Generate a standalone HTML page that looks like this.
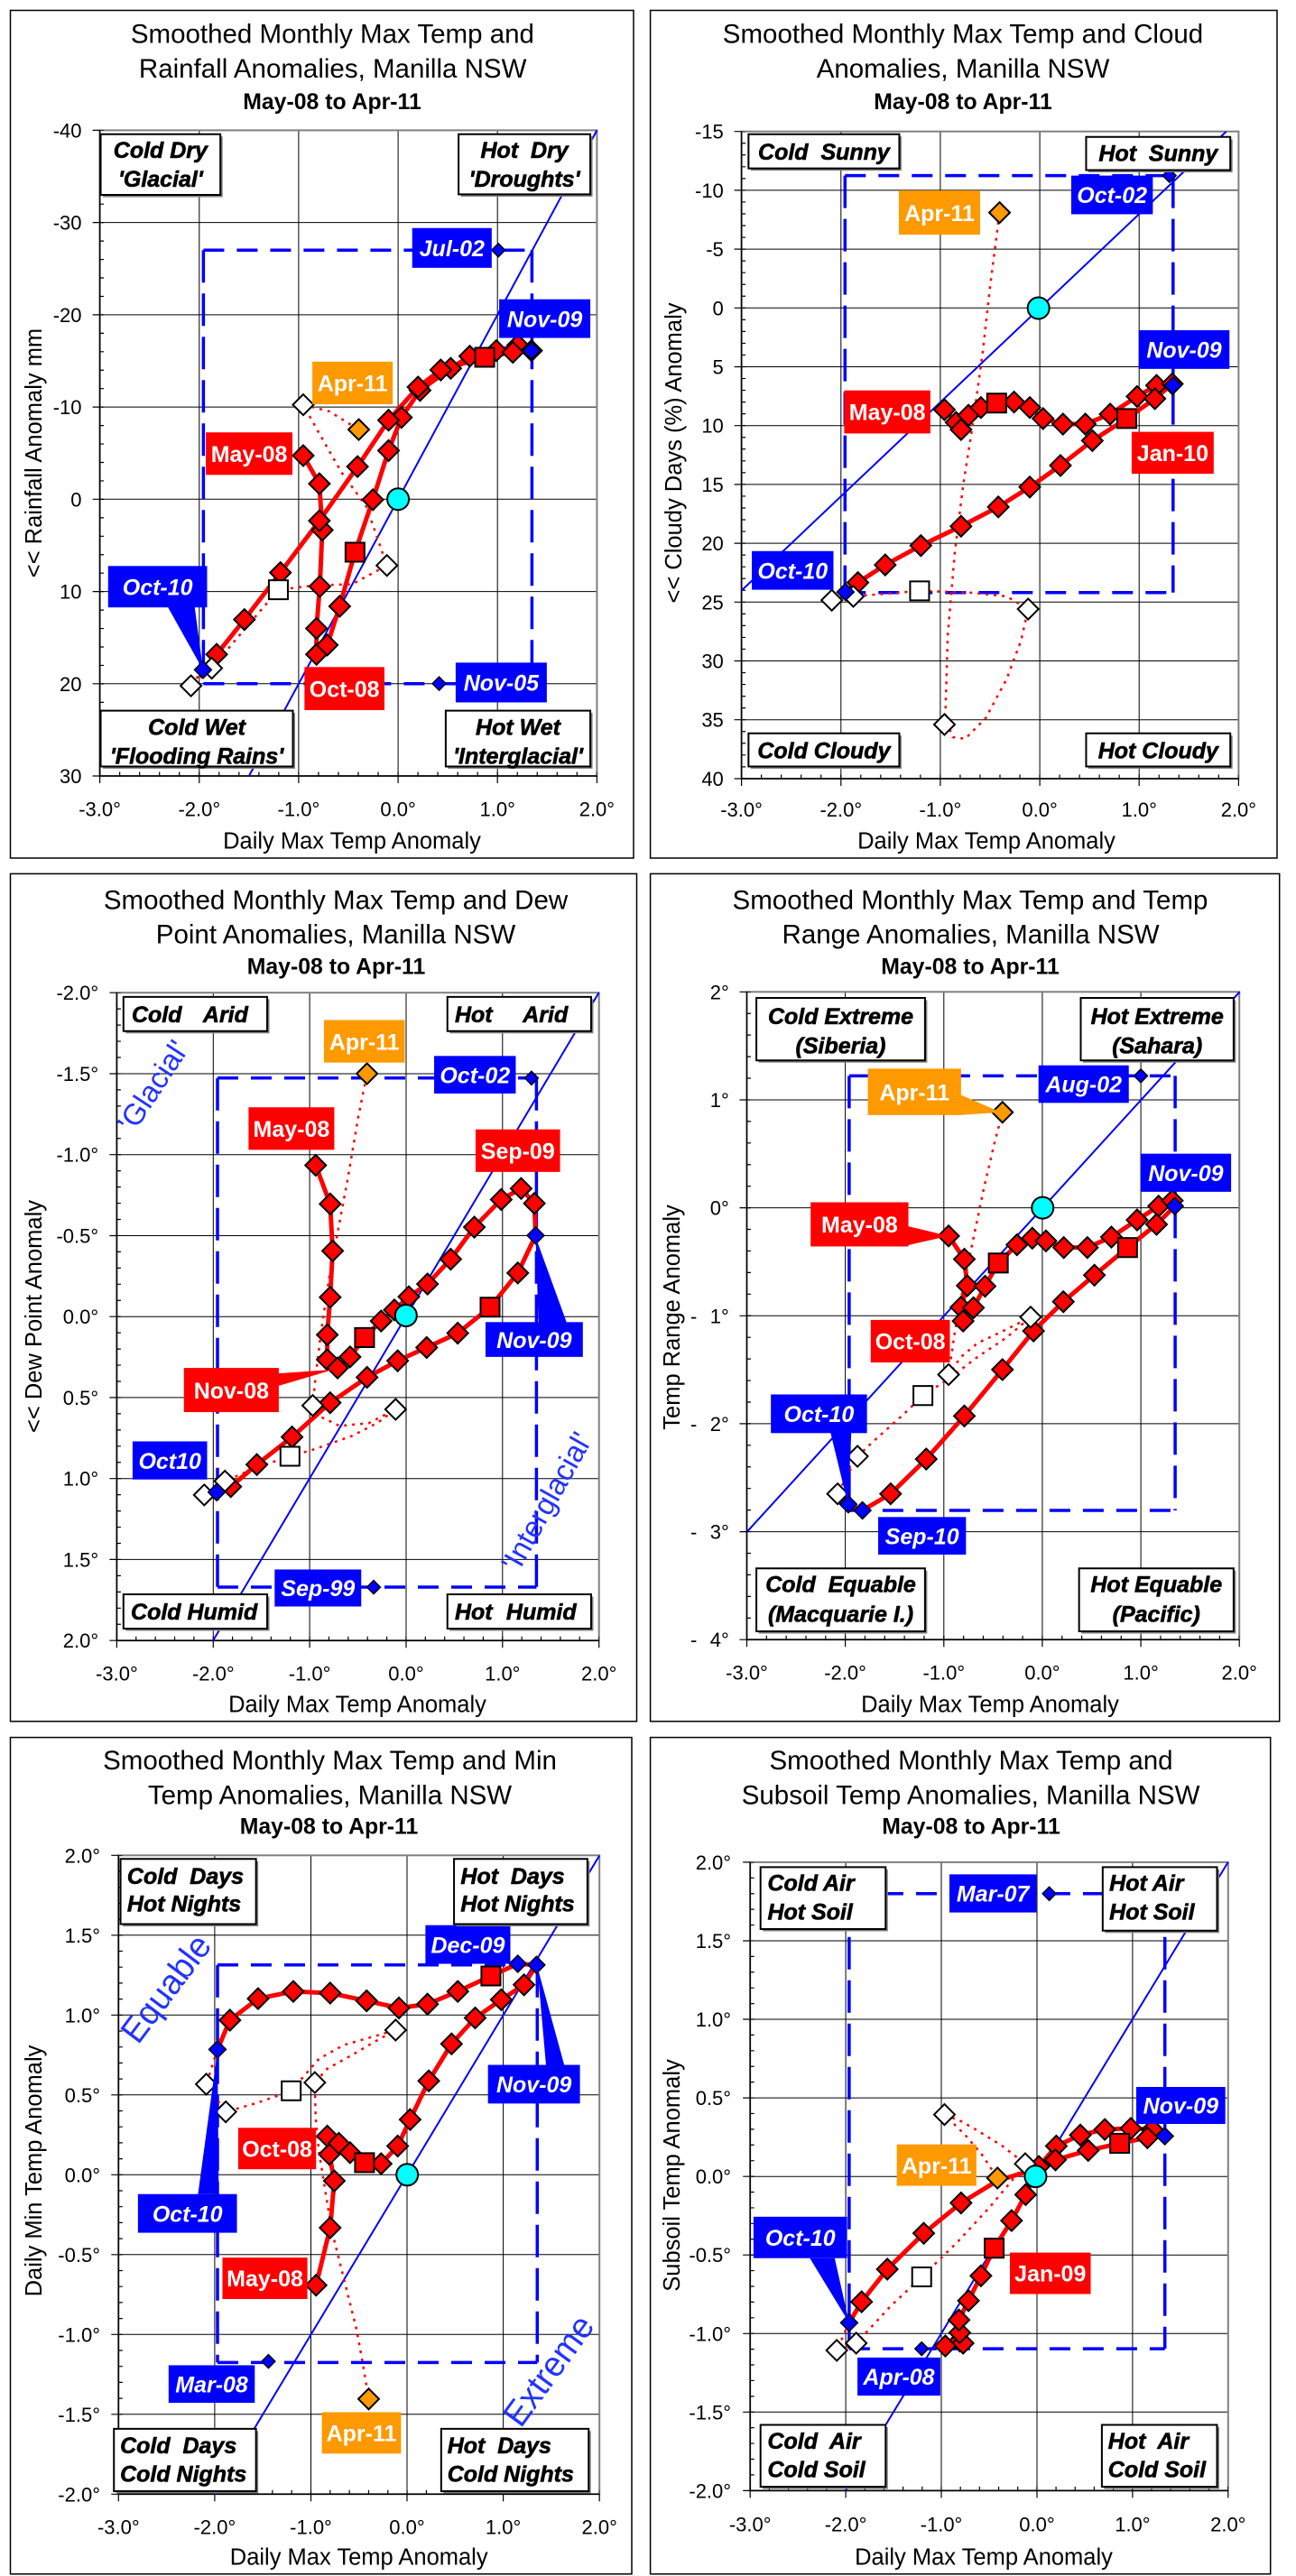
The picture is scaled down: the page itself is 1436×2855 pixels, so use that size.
<!DOCTYPE html>
<html><head><meta charset="utf-8"><title>Manilla NSW anomaly charts</title>
<style>
body{margin:0;background:#fff}
svg{display:block}
text{font-family:"Liberation Sans",Arial,sans-serif}
.fr{fill:none;stroke:#000;stroke-width:1.5}
.gr{fill:none;stroke:#000;stroke-width:1}
.pb{fill:none;stroke:#808080;stroke-width:2}
.ax{fill:none;stroke:#000;stroke-width:1.5}
.mt{fill:none;stroke:#000;stroke-width:1.2}
.mn{fill:none;stroke:#000;stroke-width:4.5}
.dg{stroke:#00f;stroke-width:2;fill:none}
.dh{stroke:#00f;stroke-width:3.5;stroke-dasharray:23 14;fill:none}
.dv{stroke:#00f;stroke-width:3.5;stroke-dasharray:36 12;fill:none}
.g *{vector-effect:non-scaling-stroke}
.rl{fill:none;stroke:#f00;stroke-width:5;stroke-linejoin:round;stroke-linecap:round}
.dt{fill:none;stroke:#f00;stroke-width:2.5;stroke-dasharray:3 6}
.rd{fill:#f00;stroke:#000;stroke-width:2}
.wd{fill:#fff;stroke:#000;stroke-width:2}
.bd{fill:#00f;stroke:#000;stroke-width:1.4}
.od{fill:#f90;stroke:#000;stroke-width:2}
.cy{fill:#0ff;stroke:#000;stroke-width:2}
.B{fill:#00f}.R{fill:#f00}.O{fill:#f90}
.qs{fill:#808080}
.qb{fill:#fff;stroke:#000;stroke-width:2}
.t1{font-size:29.5px;text-anchor:middle}
.t2{font-size:24.8px;font-weight:700;text-anchor:middle}
.tk{font-size:22px;text-anchor:end}
.tx{font-size:22px;text-anchor:middle}
.at{font-size:25.5px;text-anchor:middle}
.q{font-size:25px;font-weight:700;font-style:italic;stroke:#000;stroke-width:0.6}
.qm{text-anchor:middle}
.lb{font-size:25px;font-weight:700;fill:#fff;text-anchor:middle}
.li{font-style:italic}
.rot{fill:#2233ff}
</style></head>
<body>
<svg width="1436" height="2855" viewBox="0 0 1436 2855" xmlns="http://www.w3.org/2000/svg" xmlns:xlink="http://www.w3.org/1999/xlink">
<defs>
<path id="d" d="M0,-18.8L25,0L0,18.8L-25,0Z" vector-effect="non-scaling-stroke"/>
<path id="s" d="M-22.9,-17.2h45.8v34.4h-45.8Z" vector-effect="non-scaling-stroke"/>
<path id="b" d="M0,-12.3L16.3,0L0,12.3L-16.3,0Z" vector-effect="non-scaling-stroke"/>
<path id="m" d="M0,-15.5L20.7,0L0,15.5L-20.7,0Z" vector-effect="non-scaling-stroke"/>
</defs>
<rect width="1436" height="2855" fill="#fff"/>

<!-- ================= PANEL 1 ================= -->
<rect class="fr" x="11.5" y="11.5" width="690.5" height="939.5"/>
<path class="gr" d="M220.8,144.4V860M330.9,144.4V860M441.1,144.4V860M551.2,144.4V860M110.6,246.6H661.4M110.6,348.9H661.4M110.6,451.1H661.4M110.6,553.3H661.4M110.6,655.6H661.4M110.6,757.8H661.4"/>
<rect class="pb" x="110.6" y="144.4" width="550.8" height="715.6"/>
<path class="ax" d="M110.6,144.4V860H661.4"/>
<path class="mt" d="M102.6,144.4h8M102.6,246.6h8M102.6,348.9h8M102.6,451.1h8M102.6,553.3h8M102.6,655.6h8M102.6,757.8h8M102.6,860h8M110.6,860v8M220.8,860v8M330.9,860v8M441.1,860v8M551.2,860v8M661.4,860v8"/>
<path class="mn" d="M112.85,144.4V860" stroke-dasharray="1.2 19.25" stroke-dashoffset="0.6"/>
<path class="mn" d="M110.6,857.75H661.4" stroke-dasharray="1.2 20.83" stroke-dashoffset="0.6"/>
<line class="dg" x1="275.9" y1="860" x2="661.4" y2="144.4"/>
<path class="dh" d="M225.4,277.2H589.4M225.4,757.7H589.4"/><path class="dv" d="M225.4,277.2V757.7M589.4,277.2V757.7"/>
<g class="g" transform="translate(0,0) scale(0.459,0.612)">
<polyline class="dt" points="490,1213 461,1242 511,1210 590,1140 672,1068 760,1060 850,1058 934,1024 885,918 824,855 770,784 732,733 795,745 866,778"/>
<polyline class="rl" points="732,825 771,876 778,960 772,1062 764,1138 764,1185 790,1168 820,1098 857,1000 900,905 938,816 969,756 1014,707 1088,667 1134,645 1198,635 1250,625 1283,635"/>
<polyline class="rl" points="1283,635 1238,638 1170,647 1064,670 1009,701 938,761 863,845 771,943 677,1037 590,1122 523,1185 490,1213"/>
<g class="rd"><use href="#d" x="732" y="825"/><use href="#d" x="771" y="876"/><use href="#d" x="778" y="960"/><use href="#d" x="772" y="1062"/><use href="#d" x="764" y="1138"/><use href="#d" x="764" y="1185"/><use href="#d" x="790" y="1168"/><use href="#d" x="820" y="1098"/><use href="#d" x="900" y="905"/><use href="#d" x="938" y="816"/><use href="#d" x="969" y="756"/><use href="#d" x="1014" y="707"/><use href="#d" x="1088" y="667"/><use href="#d" x="1134" y="645"/><use href="#d" x="1198" y="635"/><use href="#d" x="1250" y="625"/><use href="#d" x="1283" y="635"/><use href="#d" x="1238" y="638"/><use href="#d" x="1064" y="670"/><use href="#d" x="1009" y="701"/><use href="#d" x="938" y="761"/><use href="#d" x="863" y="845"/><use href="#d" x="771" y="943"/><use href="#d" x="677" y="1037"/><use href="#d" x="590" y="1122"/><use href="#d" x="523" y="1185"/><use href="#s" x="857" y="1000"/><use href="#s" x="1170" y="647"/></g>
<g class="wd"><use href="#d" x="461" y="1242"/><use href="#d" x="511" y="1210"/><use href="#d" x="934" y="1024"/><use href="#d" x="732" y="733"/><use href="#s" x="672" y="1068"/></g>
<g class="bd"><use href="#m" x="1283" y="635"/><use href="#m" x="490" y="1213"/><use href="#b" x="1203" y="453"/><use href="#b" x="1060" y="1238"/></g>
<use class="od" href="#d" x="866" y="778"/>
<ellipse class="cy" cx="961" cy="904" rx="26.1" ry="19.6"/>
<rect class="B" x="995" y="413" width="192" height="72"/><text class="lb li" transform="translate(1091,464) scale(2.1786,1.634)">Jul-02</text>
<rect class="B" x="1205" y="542" width="220" height="70"/><text class="lb li" transform="translate(1315,592) scale(2.1786,1.634)">Nov-09</text>
<rect class="O" x="754" y="655" width="194" height="77"/><text class="lb" transform="translate(851,708.5) scale(2.1786,1.634)">Apr-11</text>
<rect class="R" x="497" y="783" width="209" height="77"/><text class="lb" transform="translate(601.5,836.5) scale(2.1786,1.634)">May-08</text>
<polygon class="B" points="405,1099 470,1099 490,1213"/>
<rect class="B" x="261" y="1025" width="239" height="75"/><text class="lb li" transform="translate(380.5,1077.5) scale(2.1786,1.634)">Oct-10</text>
<rect class="R" x="735" y="1208" width="193" height="78"/><text class="lb" transform="translate(831.5,1262) scale(2.1786,1.634)">Oct-08</text>
<rect class="B" x="1100" y="1200" width="220" height="72"/><text class="lb li" transform="translate(1210,1251) scale(2.1786,1.634)">Nov-05</text>
<rect class="qs" x="248.4" y="247.1" width="289" height="110"/><rect class="qb" x="243" y="243" width="289" height="110"/>
<text class="q qm" transform="translate(387.5,286) scale(2.1786,1.634)">Cold Dry</text><text class="q qm" transform="translate(387.5,338) scale(2.1786,1.634)">'Glacial'</text>
<rect class="qs" x="1112.4" y="247.1" width="318" height="109"/><rect class="qb" x="1107" y="243" width="318" height="109"/>
<text class="q qm" transform="translate(1266,286) scale(2.1786,1.634)">Hot&#160; Dry</text><text class="q qm" transform="translate(1266,338) scale(2.1786,1.634)">'Droughts'</text>
<rect class="qs" x="248.4" y="1291.1" width="464" height="101"/><rect class="qb" x="243" y="1287" width="464" height="101"/>
<text class="q qm" transform="translate(475,1331) scale(2.1786,1.634)">Cold Wet</text><text class="q qm" transform="translate(475,1383) scale(2.1786,1.634)">'Flooding Rains'</text>
<rect class="qs" x="1081.4" y="1291.1" width="349" height="101"/><rect class="qb" x="1076" y="1287" width="349" height="101"/>
<text class="q qm" transform="translate(1250.5,1331) scale(2.1786,1.634)">Hot Wet</text><text class="q qm" transform="translate(1250.5,1383) scale(2.1786,1.634)">'Interglacial'</text>
</g>
<text class="t1" x="368.4" y="47.7">Smoothed Monthly Max Temp and</text>
<text class="t1" x="368.7" y="86">Rainfall Anomalies, Manilla NSW</text>
<text class="t2" x="368" y="121">May-08 to Apr-11</text>
<g class="tk"><text x="90.5" y="152.4">-40</text><text x="90.5" y="254.6">-30</text><text x="90.5" y="356.9">-20</text><text x="90.5" y="459.1">-10</text><text x="90.5" y="561.3">0</text><text x="90.5" y="663.6">10</text><text x="90.5" y="765.8">20</text><text x="90.5" y="868">30</text></g>
<g class="tx"><text x="110.6" y="904.3">-3.0°</text><text x="220.8" y="904.3">-2.0°</text><text x="330.9" y="904.3">-1.0°</text><text x="441.1" y="904.3">0.0°</text><text x="551.2" y="904.3">1.0°</text><text x="661.4" y="904.3">2.0°</text></g>
<text class="at" x="390" y="940.5">Daily Max Temp Anomaly</text>
<text class="at" transform="translate(46,502) rotate(-90)">&lt;&lt; Rainfall Anomaly mm</text>

<!-- ================= PANEL 2 ================= -->
<rect class="fr" x="720.6" y="11.5" width="694.4" height="939.5"/>
<path class="gr" d="M931.8,145.7V863M1041.9,145.7V863M1152.1,145.7V863M1262.2,145.7V863M821.6,210.9H1372.4M821.6,276.1H1372.4M821.6,341.3H1372.4M821.6,406.5H1372.4M821.6,471.7H1372.4M821.6,536.9H1372.4M821.6,602.1H1372.4M821.6,667.3H1372.4M821.6,732.5H1372.4M821.6,797.7H1372.4"/>
<rect class="pb" x="821.6" y="145.7" width="550.8" height="717.3"/>
<path class="ax" d="M821.6,145.7V863H1372.4"/>
<path class="mt" d="M813.6,145.7h8M813.6,210.9h8M813.6,276.1h8M813.6,341.3h8M813.6,406.5h8M813.6,471.7h8M813.6,536.9h8M813.6,602.1h8M813.6,667.3h8M813.6,732.5h8M813.6,797.7h8M813.6,863h8M821.6,863v8M931.8,863v8M1041.9,863v8M1152.1,863v8M1262.2,863v8M1372.4,863v8"/>
<path class="mn" d="M823.85,145.7V863" stroke-dasharray="1.2 11.84" stroke-dashoffset="0.6"/>
<path class="mn" d="M821.6,860.75H1372.4" stroke-dasharray="1.2 20.83" stroke-dashoffset="0.6"/>
<line class="dg" x1="821.6" y1="654.5" x2="1358.6" y2="145.9"/>
<path class="dh" d="M936.3,194.6H1299.8M936.3,656.7H1299.8"/><path class="dv" d="M936.3,194.6V656.7M1299.8,194.6V656.7"/>
<g class="g" transform="translate(716,0) scale(0.459,0.612)">
<polyline class="dt" points="481,1072 448,1087 500,1080 580,1075 660,1070 780,1073 870,1080 922,1103 905,1160 870,1230 820,1300 770,1338 740,1335 722,1300 728,1150 745,1000 765,880 790,760 812,640 830,520 853,385"/>
<polyline class="rl" points="720,742 748,765 760,778 778,752 808,738 846,730 888,728 926,738 958,758 1006,768 1060,768 1120,750 1185,718 1232,698 1270,695"/>
<polyline class="rl" points="1270,695 1228,722 1160,758 1077,798 1000,843 926,882 850,918 760,953 663,988 577,1023 511,1055 481,1072"/>
<g class="rd"><use href="#d" x="720" y="742"/><use href="#d" x="748" y="765"/><use href="#d" x="760" y="778"/><use href="#d" x="778" y="752"/><use href="#d" x="808" y="738"/><use href="#d" x="888" y="728"/><use href="#d" x="926" y="738"/><use href="#d" x="958" y="758"/><use href="#d" x="1006" y="768"/><use href="#d" x="1060" y="768"/><use href="#d" x="1120" y="750"/><use href="#d" x="1185" y="718"/><use href="#d" x="1232" y="698"/><use href="#d" x="1270" y="695"/><use href="#d" x="1228" y="722"/><use href="#d" x="1077" y="798"/><use href="#d" x="1000" y="843"/><use href="#d" x="926" y="882"/><use href="#d" x="850" y="918"/><use href="#d" x="760" y="953"/><use href="#d" x="663" y="988"/><use href="#d" x="577" y="1023"/><use href="#d" x="511" y="1055"/><use href="#s" x="846" y="730"/><use href="#s" x="1160" y="758"/></g>
<g class="wd"><use href="#d" x="500" y="1080"/><use href="#d" x="448" y="1087"/><use href="#d" x="922" y="1103"/><use href="#d" x="720" y="1312"/><use href="#s" x="660" y="1070"/></g>
<g class="bd"><use href="#m" x="1272" y="698"/><use href="#m" x="481" y="1072"/><use href="#b" x="1263" y="318"/></g>
<use class="od" href="#d" x="853" y="385"/>
<ellipse class="cy" cx="947" cy="558" rx="26.1" ry="19.6"/>
<rect class="B" x="1026" y="318" width="197" height="70"/><text class="lb li" transform="translate(1124.5,368) scale(2.1786,1.634)">Oct-02</text>
<rect class="O" x="610" y="345" width="196" height="80"/><text class="lb" transform="translate(708,400) scale(2.1786,1.634)">Apr-11</text>
<rect class="B" x="1189" y="598" width="219" height="70"/><text class="lb li" transform="translate(1298.5,648) scale(2.1786,1.634)">Nov-09</text>
<rect class="R" x="478" y="707" width="208" height="78"/><text class="lb" transform="translate(582,761) scale(2.1786,1.634)">May-08</text>
<rect class="R" x="1172" y="782" width="198" height="76"/><text class="lb" transform="translate(1271,835) scale(2.1786,1.634)">Jan-10</text>
<rect class="B" x="255" y="998" width="197" height="70"/><text class="lb li" transform="translate(353.5,1048) scale(2.1786,1.634)">Oct-10</text>
<rect class="qs" x="252.4" y="247.1" width="364" height="62"/><rect class="qb" x="247" y="243" width="364" height="62"/>
<text class="q qm" transform="translate(429,289) scale(2.1786,1.634)">Cold&#160; Sunny</text>
<rect class="qs" x="1067.4" y="252.1" width="348" height="60"/><rect class="qb" x="1062" y="248" width="348" height="60"/>
<text class="q qm" transform="translate(1236,292) scale(2.1786,1.634)">Hot&#160; Sunny</text>
<rect class="qs" x="252.4" y="1332.1" width="364" height="60"/><rect class="qb" x="247" y="1328" width="364" height="60"/>
<text class="q qm" transform="translate(429,1373) scale(2.1786,1.634)">Cold Cloudy</text>
<rect class="qs" x="1067.4" y="1332.1" width="348" height="60"/><rect class="qb" x="1062" y="1328" width="348" height="60"/>
<text class="q qm" transform="translate(1236,1373) scale(2.1786,1.634)">Hot Cloudy</text>
</g>
<text class="t1" x="1067" y="47.7">Smoothed Monthly Max Temp and Cloud</text>
<text class="t1" x="1067" y="86">Anomalies, Manilla NSW</text>
<text class="t2" x="1067" y="121">May-08 to Apr-11</text>
<g class="tk"><text x="801.8" y="153.7">-15</text><text x="801.8" y="218.9">-10</text><text x="801.8" y="284.1">-5</text><text x="801.8" y="349.3">0</text><text x="801.8" y="414.5">5</text><text x="801.8" y="479.7">10</text><text x="801.8" y="544.9">15</text><text x="801.8" y="610.1">20</text><text x="801.8" y="675.3">25</text><text x="801.8" y="740.5">30</text><text x="801.8" y="805.7">35</text><text x="801.8" y="870.9">40</text></g>
<g class="tx"><text x="821.6" y="905">-3.0°</text><text x="931.8" y="905">-2.0°</text><text x="1041.9" y="905">-1.0°</text><text x="1152.1" y="905">0.0°</text><text x="1262.2" y="905">1.0°</text><text x="1372.4" y="905">2.0°</text></g>
<text class="at" x="1093" y="940.5">Daily Max Temp Anomaly</text>
<text class="at" transform="translate(755,502) rotate(-90)">&lt;&lt; Cloudy Days (%) Anomaly</text>

<!-- ================= PANEL 3 ================= -->
<rect class="fr" x="11.5" y="968.4" width="694" height="939.4"/>
<path class="gr" d="M236.3,1100.2V1818.2M343.1,1100.2V1818.2M450,1100.2V1818.2M556.8,1100.2V1818.2M129.4,1190H663.7M129.4,1279.7H663.7M129.4,1369.5H663.7M129.4,1459.2H663.7M129.4,1548.9H663.7M129.4,1638.7H663.7M129.4,1728.4H663.7"/>
<rect class="pb" x="129.4" y="1100.2" width="534.3" height="718"/>
<path class="ax" d="M129.4,1100.2V1818.2H663.7"/>
<path class="mt" d="M121.4,1100.2h8M121.4,1190h8M121.4,1279.7h8M121.4,1369.5h8M121.4,1459.2h8M121.4,1548.9h8M121.4,1638.7h8M121.4,1728.4h8M121.4,1818.2h8M129.4,1818.2v8M236.3,1818.2v8M343.1,1818.2v8M450,1818.2v8M556.8,1818.2v8M663.7,1818.2v8"/>
<path class="mn" d="M131.65,1100.2V1818.2" stroke-dasharray="1.2 16.75" stroke-dashoffset="0.6"/>
<path class="mn" d="M129.4,1815.95H663.7" stroke-dasharray="1.2 20.17" stroke-dashoffset="0.6"/>
<line class="dg" x1="236.1" y1="1818.2" x2="663.5" y2="1100.2"/>
<path class="dh" d="M241,1194.8H594.4M241,1759H594.4"/><path class="dv" d="M241,1194.8V1759M594.4,1194.8V1759"/>
<g class="g" transform="translate(0,950) scale(0.459,0.612)">
<polyline class="dt" points="523,1150 493,1155 543,1130 620,1105 700,1085 760,1072 850,1048 910,1025 955,1000 890,1025 820,1030 770,1012 755,993 762,940 775,860 795,760 815,680 840,580 865,470 886,392"/>
<polyline class="rl" points="762,558 797,628 803,713 797,797 790,865 790,910 815,925 845,905 880,870 920,840 952,820 987,796 1032,773 1088,728 1145,670 1210,620 1258,600 1290,627 1293,685"/>
<polyline class="rl" points="1293,685 1250,753 1183,815 1105,862 1030,888 960,912 886,942 797,988 705,1050 620,1100 557,1140 523,1150"/>
<g class="rd"><use href="#d" x="762" y="558"/><use href="#d" x="797" y="628"/><use href="#d" x="803" y="713"/><use href="#d" x="797" y="797"/><use href="#d" x="790" y="865"/><use href="#d" x="790" y="910"/><use href="#d" x="815" y="925"/><use href="#d" x="845" y="905"/><use href="#d" x="920" y="840"/><use href="#d" x="952" y="820"/><use href="#d" x="987" y="796"/><use href="#d" x="1032" y="773"/><use href="#d" x="1088" y="728"/><use href="#d" x="1145" y="670"/><use href="#d" x="1210" y="620"/><use href="#d" x="1258" y="600"/><use href="#d" x="1290" y="627"/><use href="#d" x="1250" y="753"/><use href="#d" x="1105" y="862"/><use href="#d" x="1030" y="888"/><use href="#d" x="960" y="912"/><use href="#d" x="886" y="942"/><use href="#d" x="797" y="988"/><use href="#d" x="705" y="1050"/><use href="#d" x="620" y="1100"/><use href="#d" x="557" y="1140"/><use href="#s" x="880" y="870"/><use href="#s" x="1183" y="815"/></g>
<g class="wd"><use href="#d" x="543" y="1130"/><use href="#d" x="493" y="1155"/><use href="#d" x="955" y="1000"/><use href="#d" x="755" y="993"/><use href="#s" x="700" y="1085"/></g>
<g class="bd"><use href="#m" x="1293" y="685"/><use href="#m" x="523" y="1150"/><use href="#b" x="1283" y="400"/><use href="#b" x="902" y="1322"/></g>
<use class="od" href="#d" x="886" y="392"/>
<ellipse class="cy" cx="980" cy="830" rx="26.1" ry="19.6"/>
<rect class="O" x="782" y="295" width="195" height="77"/><text class="lb" transform="translate(879.5,348.5) scale(2.1786,1.634)">Apr-11</text>
<rect class="B" x="1048" y="360" width="197" height="68"/><text class="lb li" transform="translate(1146.5,409) scale(2.1786,1.634)">Oct-02</text>
<rect class="R" x="600" y="453" width="207" height="77"/><text class="lb" transform="translate(703.5,506.5) scale(2.1786,1.634)">May-08</text>
<rect class="R" x="1148" y="493" width="204" height="77"/><text class="lb" transform="translate(1250,546.5) scale(2.1786,1.634)">Sep-09</text>
<polygon class="B" points="1293,688 1300,843 1368,843"/>
<rect class="B" x="1172" y="842" width="235" height="63"/><text class="lb li" transform="translate(1289.5,888.5) scale(2.1786,1.634)">Nov-09</text>
<polygon class="R" points="670,935 670,958 805,928"/>
<rect class="R" x="444" y="925" width="229" height="80"/><text class="lb" transform="translate(558.5,980) scale(2.1786,1.634)">Nov-08</text>
<rect class="B" x="320" y="1058" width="180" height="69"/><text class="lb li" transform="translate(410,1107.5) scale(2.1786,1.634)">Oct10</text>
<rect class="B" x="663" y="1290" width="209" height="67"/><text class="lb li" transform="translate(767.5,1338.5) scale(2.1786,1.634)">Sep-99</text>
<rect class="qs" x="303.4" y="257.1" width="347" height="62"/><rect class="qb" x="298" y="253" width="347" height="62"/>
<text class="q" transform="translate(318,299) scale(2.1786,1.634)">Cold</text><text class="q" transform="translate(490,299) scale(2.1786,1.634)">Arid</text>
<rect class="qs" x="1085.4" y="257.1" width="347" height="62"/><rect class="qb" x="1080" y="253" width="347" height="62"/>
<text class="q" transform="translate(1098,299) scale(2.1786,1.634)">Hot</text><text class="q" transform="translate(1262,299) scale(2.1786,1.634)">Arid</text>
<rect class="qs" x="303.4" y="1339.1" width="347" height="62"/><rect class="qb" x="298" y="1335" width="347" height="62"/>
<text class="q" transform="translate(316,1381) scale(2.1786,1.634)">Cold Humid</text>
<rect class="qs" x="1085.4" y="1339.1" width="347" height="62"/><rect class="qb" x="1080" y="1335" width="347" height="62"/>
<text class="q" transform="translate(1098,1381) scale(2.1786,1.634)">Hot</text><text class="q" transform="translate(1222,1381) scale(2.1786,1.634)">Humid</text>
</g>
<text class="rot" font-size="33" transform="translate(148,1257) rotate(-56.6)" textLength="113" lengthAdjust="spacingAndGlyphs">'Glacial'</text>
<text class="rot" font-size="33" transform="translate(574,1744) rotate(-60.8)" textLength="170" lengthAdjust="spacingAndGlyphs">'Interglacial'</text>
<text class="t1" x="372" y="1007.5">Smoothed Monthly Max Temp and Dew</text>
<text class="t1" x="372" y="1045.4">Point Anomalies, Manilla NSW</text>
<text class="t2" x="372.5" y="1079.5">May-08 to Apr-11</text>
<g class="tk"><text x="109.2" y="1108.2">-2.0°</text><text x="109.2" y="1198">-1.5°</text><text x="109.2" y="1287.7">-1.0°</text><text x="109.2" y="1377.5">-0.5°</text><text x="109.2" y="1467.2">0.0°</text><text x="109.2" y="1556.9">0.5°</text><text x="109.2" y="1646.7">1.0°</text><text x="109.2" y="1736.4">1.5°</text><text x="109.2" y="1826.2">2.0°</text></g>
<g class="tx"><text x="129.4" y="1862.5">-3.0°</text><text x="236.3" y="1862.5">-2.0°</text><text x="343.1" y="1862.5">-1.0°</text><text x="450" y="1862.5">0.0°</text><text x="556.8" y="1862.5">1.0°</text><text x="663.7" y="1862.5">2.0°</text></g>
<text class="at" x="396" y="1897.5">Daily Max Temp Anomaly</text>
<text class="at" transform="translate(46,1459) rotate(-90)">&lt;&lt; Dew Point Anomaly</text>

<!-- ================= PANEL 4 ================= -->
<rect class="fr" x="720.6" y="968.4" width="697.1" height="939.4"/>
<path class="gr" d="M936.6,1099.3V1817.2M1045.8,1099.3V1817.2M1154.9,1099.3V1817.2M1264.1,1099.3V1817.2M827.5,1219H1373.2M827.5,1338.6H1373.2M827.5,1458.3H1373.2M827.5,1577.9H1373.2M827.5,1697.6H1373.2"/>
<rect class="pb" x="827.5" y="1099.3" width="545.7" height="717.9"/>
<path class="ax" d="M827.5,1099.3V1817.2H1373.2"/>
<path class="mt" d="M819.5,1099.3h8M819.5,1219h8M819.5,1338.6h8M819.5,1458.3h8M819.5,1577.9h8M819.5,1697.6h8M819.5,1817.2h8M827.5,1817.2v8M936.6,1817.2v8M1045.8,1817.2v8M1154.9,1817.2v8M1264.1,1817.2v8M1373.2,1817.2v8"/>
<path class="mn" d="M829.75,1099.3V1817.2" stroke-dasharray="1.2 22.73" stroke-dashoffset="0.6"/>
<path class="mn" d="M827.5,1814.95H1373.2" stroke-dasharray="1.2 20.63" stroke-dashoffset="0.6"/>
<line class="dg" x1="827.8" y1="1697.6" x2="1373.6" y2="1099.3"/>
<path class="dh" d="M940.9,1192.4H1302.1M940.9,1674H1302.1"/><path class="dv" d="M940.9,1192.4V1674M1302.1,1192.4V1674"/>
<g class="g" transform="translate(716,950) scale(0.459,0.612)">
<polyline class="dt" points="488,1172 462,1153 510,1085 560,1050 620,1010 668,975 730,945 800,905 870,870 928,833 870,855 800,880 760,905 730,937 745,860 770,760 790,690 815,600 840,520 860,462"/>
<polyline class="rl" points="730,686 768,728 775,776 760,815 765,840 790,816 818,777 850,735 895,702 932,690 965,695 1008,707 1065,707 1123,688 1185,657 1237,632 1270,622 1276,632"/>
<polyline class="rl" points="1276,632 1232,665 1162,707 1082,757 1007,805 935,858 860,928 768,1012 676,1090 590,1153 522,1183 488,1172"/>
<g class="rd"><use href="#d" x="730" y="686"/><use href="#d" x="768" y="728"/><use href="#d" x="775" y="776"/><use href="#d" x="760" y="815"/><use href="#d" x="765" y="840"/><use href="#d" x="790" y="816"/><use href="#d" x="818" y="777"/><use href="#d" x="895" y="702"/><use href="#d" x="932" y="690"/><use href="#d" x="965" y="695"/><use href="#d" x="1008" y="707"/><use href="#d" x="1065" y="707"/><use href="#d" x="1123" y="688"/><use href="#d" x="1185" y="657"/><use href="#d" x="1237" y="632"/><use href="#d" x="1270" y="622"/><use href="#d" x="1232" y="665"/><use href="#d" x="1082" y="757"/><use href="#d" x="1007" y="805"/><use href="#d" x="935" y="858"/><use href="#d" x="860" y="928"/><use href="#d" x="768" y="1012"/><use href="#d" x="676" y="1090"/><use href="#d" x="590" y="1153"/><use href="#s" x="850" y="735"/><use href="#s" x="1162" y="707"/></g>
<g class="wd"><use href="#d" x="462" y="1153"/><use href="#d" x="510" y="1085"/><use href="#d" x="730" y="937"/><use href="#d" x="928" y="833"/><use href="#s" x="668" y="975"/></g>
<g class="bd"><use href="#m" x="1276" y="632"/><use href="#m" x="522" y="1183"/><use href="#m" x="488" y="1172"/><use href="#b" x="1194" y="396"/></g>
<use class="od" href="#d" x="860" y="462"/>
<ellipse class="cy" cx="957" cy="635" rx="26.1" ry="19.6"/>
<polygon class="O" points="758,430 758,467 856,462"/>
<rect class="O" x="535" y="383" width="225" height="84"/><text class="lb" transform="translate(647.5,440) scale(2.1786,1.634)">Apr-11</text>
<rect class="B" x="947" y="377" width="218" height="68"/><text class="lb li" transform="translate(1056,426) scale(2.1786,1.634)">Aug-02</text>
<rect class="B" x="1193" y="537" width="219" height="69"/><text class="lb li" transform="translate(1302.5,586.5) scale(2.1786,1.634)">Nov-09</text>
<polygon class="R" points="630,668 630,703 730,686"/>
<rect class="R" x="397" y="625" width="236" height="80"/><text class="lb" transform="translate(515,680) scale(2.1786,1.634)">May-08</text>
<rect class="R" x="542" y="838" width="191" height="77"/><text class="lb" transform="translate(637.5,891.5) scale(2.1786,1.634)">Oct-08</text>
<polygon class="B" points="445,1042 495,1042 487,1172"/>
<rect class="B" x="301" y="973" width="232" height="70"/><text class="lb li" transform="translate(417,1023) scale(2.1786,1.634)">Oct-10</text>
<rect class="B" x="560" y="1195" width="212" height="68"/><text class="lb li" transform="translate(666,1244) scale(2.1786,1.634)">Sep-10</text>
<rect class="qs" x="271.4" y="259.1" width="407" height="113"/><rect class="qb" x="266" y="255" width="407" height="113"/>
<text class="q qm" transform="translate(469.5,302) scale(2.1786,1.634)">Cold Extreme</text><text class="q qm" transform="translate(469.5,355) scale(2.1786,1.634)">(Siberia)</text>
<rect class="qs" x="1054.4" y="259.1" width="369" height="113"/><rect class="qb" x="1049" y="255" width="369" height="113"/>
<text class="q qm" transform="translate(1233.5,302) scale(2.1786,1.634)">Hot Extreme</text><text class="q qm" transform="translate(1233.5,355) scale(2.1786,1.634)">(Sahara)</text>
<rect class="qs" x="271.4" y="1292.1" width="407" height="114"/><rect class="qb" x="266" y="1288" width="407" height="114"/>
<text class="q qm" transform="translate(469.5,1331) scale(2.1786,1.634)">Cold&#160; Equable</text><text class="q qm" transform="translate(469.5,1385) scale(2.1786,1.634)">(Macquarie I.)</text>
<rect class="qs" x="1050.4" y="1292.1" width="373" height="114"/><rect class="qb" x="1045" y="1288" width="373" height="114"/>
<text class="q qm" transform="translate(1231.5,1331) scale(2.1786,1.634)">Hot Equable</text><text class="q qm" transform="translate(1231.5,1385) scale(2.1786,1.634)">(Pacific)</text>
</g>
<text class="t1" x="1075" y="1007.5">Smoothed Monthly Max Temp and Temp</text>
<text class="t1" x="1075.6" y="1045.4">Range Anomalies, Manilla NSW</text>
<text class="t2" x="1075" y="1079.5">May-08 to Apr-11</text>
<g class="tk"><text x="807.8" y="1107.3">2°</text><text x="807.8" y="1227">1°</text><text x="807.8" y="1346.6">0°</text><text x="807.8" y="1466.3">1°</text><text x="807.8" y="1585.9">2°</text><text x="807.8" y="1705.6">3°</text><text x="807.8" y="1825.2">4°</text></g>
<g style="font-size:22px"><text x="765" y="1466.3">-</text><text x="765" y="1585.9">-</text><text x="765" y="1705.6">-</text><text x="765" y="1825.2">-</text></g>
<g class="tx"><text x="827.5" y="1861.5">-3.0°</text><text x="936.6" y="1861.5">-2.0°</text><text x="1045.8" y="1861.5">-1.0°</text><text x="1154.9" y="1861.5">0.0°</text><text x="1264.1" y="1861.5">1.0°</text><text x="1373.2" y="1861.5">2.0°</text></g>
<text class="at" x="1097" y="1897.5">Daily Max Temp Anomaly</text>
<text class="at" transform="translate(753,1460) rotate(-90)">Temp Range Anomaly</text>

<!-- ================= PANEL 5 ================= -->
<rect class="fr" x="11.5" y="1925.6" width="688.5" height="927.2"/>
<path class="gr" d="M237.9,2056.3V2764.3M344.5,2056.3V2764.3M451,2056.3V2764.3M557.6,2056.3V2764.3M131.3,2144.8H664.2M131.3,2233.3H664.2M131.3,2321.8H664.2M131.3,2410.3H664.2M131.3,2498.8H664.2M131.3,2587.3H664.2M131.3,2675.8H664.2"/>
<rect class="pb" x="131.3" y="2056.3" width="532.9" height="708"/>
<path class="ax" d="M131.3,2056.3V2764.3H664.2"/>
<path class="mt" d="M123.3,2056.3h8M123.3,2144.8h8M123.3,2233.3h8M123.3,2321.8h8M123.3,2410.3h8M123.3,2498.8h8M123.3,2587.3h8M123.3,2675.8h8M123.3,2764.3h8M131.3,2764.3v8M237.9,2764.3v8M344.5,2764.3v8M451,2764.3v8M557.6,2764.3v8M664.2,2764.3v8"/>
<path class="mn" d="M133.55,2056.3V2764.3" stroke-dasharray="1.2 16.5" stroke-dashoffset="0.6"/>
<path class="mn" d="M131.3,2762.05H664.2" stroke-dasharray="1.2 20.12" stroke-dashoffset="0.6"/>
<line class="dg" x1="238" y1="2764.3" x2="664.2" y2="2056.5"/>
<path class="dh" d="M241,2177.7H595.3M241,2618.4H595.3"/><path class="dv" d="M241,2177.7V2618.4M595.3,2177.7V2618.4"/>
<g class="g" transform="translate(0,1895) scale(0.459,0.612)">
<polyline class="dt" points="525,615 498,678 545,728 620,712 703,690 770,632 830,607 900,592 955,580 900,603 850,625 790,650 760,675 762,740 770,800 785,870 800,940 820,1000 840,1060 860,1120 875,1180 890,1248"/>
<polyline class="rl" points="763,1042 797,938 807,853 795,805 790,772 818,785 845,802 880,820 920,822 960,790 990,742 1035,672 1090,605 1147,558 1210,525 1265,498 1295,462"/>
<polyline class="rl" points="1295,462 1250,460 1185,482 1105,510 1032,533 963,540 885,527 797,513 708,510 623,523 555,562 525,615"/>
<g class="rd"><use href="#d" x="763" y="1042"/><use href="#d" x="797" y="938"/><use href="#d" x="807" y="853"/><use href="#d" x="795" y="805"/><use href="#d" x="790" y="772"/><use href="#d" x="818" y="785"/><use href="#d" x="845" y="802"/><use href="#d" x="920" y="822"/><use href="#d" x="960" y="790"/><use href="#d" x="990" y="742"/><use href="#d" x="1035" y="672"/><use href="#d" x="1090" y="605"/><use href="#d" x="1147" y="558"/><use href="#d" x="1210" y="525"/><use href="#d" x="1265" y="498"/><use href="#d" x="1105" y="510"/><use href="#d" x="1032" y="533"/><use href="#d" x="963" y="540"/><use href="#d" x="885" y="527"/><use href="#d" x="797" y="513"/><use href="#d" x="708" y="510"/><use href="#d" x="623" y="523"/><use href="#d" x="555" y="562"/><use href="#s" x="880" y="820"/><use href="#s" x="1185" y="482"/></g>
<g class="wd"><use href="#d" x="498" y="678"/><use href="#d" x="545" y="728"/><use href="#d" x="760" y="675"/><use href="#d" x="955" y="580"/><use href="#s" x="703" y="690"/></g>
<g class="bd"><use href="#m" x="1295" y="462"/><use href="#m" x="1250" y="460"/><use href="#m" x="525" y="615"/><use href="#b" x="648" y="1180"/></g>
<use class="od" href="#d" x="890" y="1248"/>
<ellipse class="cy" cx="983" cy="842" rx="26.1" ry="19.6"/>
<rect class="B" x="1027" y="390" width="205" height="70"/><text class="lb li" transform="translate(1129.5,440) scale(2.1786,1.634)">Dec-09</text>
<polygon class="B" points="1297,465 1318,643 1362,643"/>
<rect class="B" x="1178" y="643" width="222" height="70"/><text class="lb li" transform="translate(1289,693) scale(2.1786,1.634)">Nov-09</text>
<polygon class="B" points="525,618 478,877 528,877"/>
<rect class="B" x="333" y="877" width="239" height="70"/><text class="lb li" transform="translate(452.5,927) scale(2.1786,1.634)">Oct-10</text>
<rect class="R" x="575" y="757" width="188" height="75"/><text class="lb" transform="translate(669,809.5) scale(2.1786,1.634)">Oct-08</text>
<rect class="R" x="537" y="992" width="205" height="75"/><text class="lb" transform="translate(639.5,1044.5) scale(2.1786,1.634)">May-08</text>
<rect class="B" x="407" y="1187" width="208" height="68"/><text class="lb li" transform="translate(511,1236) scale(2.1786,1.634)">Mar-08</text>
<rect class="O" x="777" y="1272" width="191" height="75"/><text class="lb" transform="translate(872.5,1324.5) scale(2.1786,1.634)">Apr-11</text>
<rect class="qs" x="296.4" y="274.1" width="327" height="118"/><rect class="qb" x="291" y="270" width="327" height="118"/>
<text class="q" transform="translate(307,315) scale(2.1786,1.634)">Cold&#160; Days</text><text class="q" transform="translate(307,365) scale(2.1786,1.634)">Hot Nights</text>
<rect class="qs" x="1101.4" y="274.1" width="322" height="118"/><rect class="qb" x="1096" y="270" width="322" height="118"/>
<text class="q" transform="translate(1112,315) scale(2.1786,1.634)">Hot&#160; Days</text><text class="q" transform="translate(1112,365) scale(2.1786,1.634)">Hot Nights</text>
<rect class="qs" x="280.4" y="1306.1" width="343" height="113"/><rect class="qb" x="275" y="1302" width="343" height="113"/>
<text class="q" transform="translate(290,1346) scale(2.1786,1.634)">Cold&#160; Days</text><text class="q" transform="translate(290,1398) scale(2.1786,1.634)">Cold Nights</text>
<rect class="qs" x="1070.4" y="1306.1" width="356" height="113"/><rect class="qb" x="1065" y="1302" width="356" height="113"/>
<text class="q" transform="translate(1080,1346) scale(2.1786,1.634)">Hot&#160; Days</text><text class="q" transform="translate(1080,1398) scale(2.1786,1.634)">Cold Nights</text>
</g>
<text class="rot" font-size="39" transform="translate(153,2267) rotate(-53.1)" textLength="138" lengthAdjust="spacingAndGlyphs">Equable</text>
<text class="rot" font-size="39" transform="translate(577,2692) rotate(-53.9)" textLength="141" lengthAdjust="spacingAndGlyphs">Extreme</text>
<text class="t1" x="365.5" y="1961">Smoothed Monthly Max Temp and Min</text>
<text class="t1" x="365.5" y="1999.5">Temp Anomalies, Manilla NSW</text>
<text class="t2" x="364.5" y="2032.5">May-08 to Apr-11</text>
<g class="tk"><text x="111" y="2064.3">2.0°</text><text x="111" y="2152.8">1.5°</text><text x="111" y="2241.3">1.0°</text><text x="111" y="2329.8">0.5°</text><text x="111" y="2418.3">0.0°</text><text x="111" y="2506.8">-0.5°</text><text x="111" y="2595.3">-1.0°</text><text x="111" y="2683.8">-1.5°</text><text x="111" y="2772.3">-2.0°</text></g>
<g class="tx"><text x="131.3" y="2808.6">-3.0°</text><text x="237.9" y="2808.6">-2.0°</text><text x="344.5" y="2808.6">-1.0°</text><text x="451" y="2808.6">0.0°</text><text x="557.6" y="2808.6">1.0°</text><text x="664.2" y="2808.6">2.0°</text></g>
<text class="at" x="397.7" y="2842.3">Daily Max Temp Anomaly</text>
<text class="at" transform="translate(46,2406) rotate(-90)">Daily Min Temp Anomaly</text>

<!-- ================= PANEL 6 ================= -->
<rect class="fr" x="720.6" y="1925.6" width="687.1" height="927.2"/>
<path class="gr" d="M937.1,2063.9V2760.4M1043,2063.9V2760.4M1149,2063.9V2760.4M1254.9,2063.9V2760.4M831.2,2151H1360.8M831.2,2238H1360.8M831.2,2325.1H1360.8M831.2,2412.2H1360.8M831.2,2499.2H1360.8M831.2,2586.3H1360.8M831.2,2673.3H1360.8"/>
<rect class="pb" x="831.2" y="2063.9" width="529.6" height="696.5"/>
<path class="ax" d="M831.2,2063.9V2760.4H1360.8"/>
<path class="mt" d="M823.2,2063.9h8M823.2,2151h8M823.2,2238h8M823.2,2325.1h8M823.2,2412.2h8M823.2,2499.2h8M823.2,2586.3h8M823.2,2673.3h8M823.2,2760.4h8M831.2,2760.4v8M937.1,2760.4v8M1043,2760.4v8M1149,2760.4v8M1254.9,2760.4v8M1360.8,2760.4v8"/>
<path class="mn" d="M833.45,2063.9V2760.4" stroke-dasharray="1.2 16.21" stroke-dashoffset="0.6"/>
<path class="mn" d="M831.2,2758.15H1360.8" stroke-dasharray="1.2 19.98" stroke-dashoffset="0.6"/>
<line class="dg" x1="937" y1="2760.4" x2="1360.7" y2="2063.9"/>
<path class="dh" d="M940.9,2098.8H1290.7M940.9,2603.1H1290.7"/><path class="dv" d="M940.9,2098.8V2603.1M1290.7,2098.8V2603.1"/>
<g class="g" transform="translate(716,1895) scale(0.459,0.612)">
<polyline class="dt" points="490,1110 460,1160 507,1147 590,1080 665,1027 750,965 830,900 880,855 915,822 860,790 800,762 760,745 720,733 770,770 810,805 848,848"/>
<polyline class="rl" points="765,1147 722,1152 757,1128 755,1105 778,1070 808,1025 840,975 882,925 916,878 948,827 990,790 1048,770 1107,760 1170,758 1222,760 1252,772"/>
<polyline class="rl" points="1252,772 1210,775 1143,785 1067,798 988,815 940,832 850,852 760,893 670,948 582,1013 520,1072 490,1110"/>
<g class="rd"><use href="#d" x="757" y="1143"/><use href="#d" x="765" y="1147"/><use href="#d" x="722" y="1152"/><use href="#d" x="757" y="1128"/><use href="#d" x="755" y="1105"/><use href="#d" x="778" y="1070"/><use href="#d" x="808" y="1025"/><use href="#d" x="882" y="925"/><use href="#d" x="916" y="878"/><use href="#d" x="948" y="827"/><use href="#d" x="990" y="790"/><use href="#d" x="1048" y="770"/><use href="#d" x="1107" y="760"/><use href="#d" x="1170" y="758"/><use href="#d" x="1222" y="760"/><use href="#d" x="1210" y="775"/><use href="#d" x="1067" y="798"/><use href="#d" x="988" y="815"/><use href="#d" x="760" y="893"/><use href="#d" x="670" y="948"/><use href="#d" x="582" y="1013"/><use href="#d" x="520" y="1072"/><use href="#s" x="840" y="975"/><use href="#s" x="1143" y="785"/></g>
<g class="wd"><use href="#d" x="507" y="1147"/><use href="#d" x="460" y="1160"/><use href="#d" x="915" y="822"/><use href="#d" x="720" y="733"/><use href="#s" x="665" y="1027"/></g>
<g class="bd"><use href="#m" x="1252" y="772"/><use href="#m" x="490" y="1110"/><use href="#b" x="973" y="333"/><use href="#b" x="665" y="1157"/></g>
<use class="od" href="#d" x="848" y="848"/>
<ellipse class="cy" cx="940" cy="845" rx="26.1" ry="19.6"/>
<rect class="B" x="732" y="298" width="210" height="69"/><text class="lb li" transform="translate(837,347.5) scale(2.1786,1.634)">Mar-07</text>
<rect class="B" x="1183" y="683" width="215" height="67"/><text class="lb li" transform="translate(1290.5,731.5) scale(2.1786,1.634)">Nov-09</text>
<rect class="O" x="605" y="787" width="192" height="75"/><text class="lb" transform="translate(701,839.5) scale(2.1786,1.634)">Apr-11</text>
<polygon class="B" points="395,993 455,993 490,1110"/>
<rect class="B" x="259" y="918" width="226" height="75"/><text class="lb li" transform="translate(372,970.5) scale(2.1786,1.634)">Oct-10</text>
<rect class="R" x="878" y="983" width="195" height="75"/><text class="lb" transform="translate(975.5,1035.5) scale(2.1786,1.634)">Jan-09</text>
<rect class="B" x="510" y="1173" width="200" height="69"/><text class="lb li" transform="translate(610,1222.5) scale(2.1786,1.634)">Apr-08</text>
<rect class="qs" x="281.4" y="289.1" width="302" height="112"/><rect class="qb" x="276" y="285" width="302" height="112"/>
<text class="q" transform="translate(293,328) scale(2.1786,1.634)">Cold Air</text><text class="q" transform="translate(293,380) scale(2.1786,1.634)">Hot Soil</text>
<rect class="qs" x="1107.4" y="289.1" width="276" height="115"/><rect class="qb" x="1102" y="285" width="276" height="115"/>
<text class="q" transform="translate(1118,328) scale(2.1786,1.634)">Hot Air</text><text class="q" transform="translate(1118,380) scale(2.1786,1.634)">Hot Soil</text>
<rect class="qs" x="281.4" y="1299.1" width="302" height="112"/><rect class="qb" x="276" y="1295" width="302" height="112"/>
<text class="q" transform="translate(293,1338) scale(2.1786,1.634)">Cold&#160; Air</text><text class="q" transform="translate(293,1390) scale(2.1786,1.634)">Cold Soil</text>
<rect class="qs" x="1105.4" y="1299.1" width="278" height="112"/><rect class="qb" x="1100" y="1295" width="278" height="112"/>
<text class="q" transform="translate(1115,1338) scale(2.1786,1.634)">Hot&#160; Air</text><text class="q" transform="translate(1115,1390) scale(2.1786,1.634)">Cold Soil</text>
</g>
<text class="t1" x="1076" y="1961">Smoothed Monthly Max Temp and</text>
<text class="t1" x="1075.6" y="1999.5">Subsoil Temp Anomalies, Manilla NSW</text>
<text class="t2" x="1076" y="2032.5">May-08 to Apr-11</text>
<g class="tk"><text x="810.1" y="2071.9">2.0°</text><text x="810.1" y="2159">1.5°</text><text x="810.1" y="2246">1.0°</text><text x="810.1" y="2333.1">0.5°</text><text x="810.1" y="2420.2">0.0°</text><text x="810.1" y="2507.2">-0.5°</text><text x="810.1" y="2594.3">-1.0°</text><text x="810.1" y="2681.3">-1.5°</text><text x="810.1" y="2768.4">-2.0°</text></g>
<g class="tx"><text x="831.2" y="2805.5">-3.0°</text><text x="937.1" y="2805.5">-2.0°</text><text x="1043" y="2805.5">-1.0°</text><text x="1149" y="2805.5">0.0°</text><text x="1254.9" y="2805.5">1.0°</text><text x="1360.8" y="2805.5">2.0°</text></g>
<text class="at" x="1090" y="2842.5">Daily Max Temp Anomaly</text>
<text class="at" transform="translate(753,2411) rotate(-90)">Subsoil Temp Anomaly</text>
</svg>
</body></html>
